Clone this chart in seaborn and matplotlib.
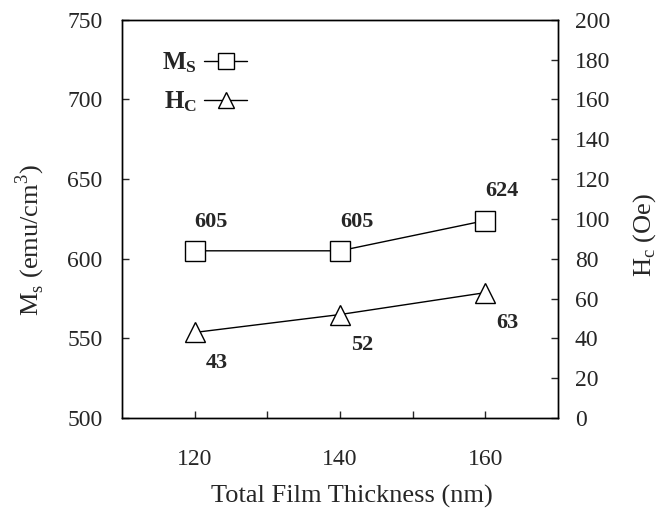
import matplotlib
import matplotlib.pyplot as plt
import pandas as pd
import seaborn as sns

matplotlib.use("Agg")

thickness = [120, 140, 160]
ms_values = [605, 605, 624]
hc_values = [43, 52, 63]

sns.set_style("ticks")
plt.rcParams["font.family"] = ["Liberation Serif", "DejaVu Serif"]
plt.rcParams["mathtext.fontset"] = "custom"
plt.rcParams["mathtext.rm"] = "Liberation Serif"
plt.rcParams["mathtext.bf"] = "Liberation Serif:bold"
plt.rcParams["xtick.direction"] = "in"
plt.rcParams["ytick.direction"] = "in"

df = pd.DataFrame({"Thickness": thickness, "Ms": ms_values, "Hc": hc_values})

fig = plt.figure(figsize=(6.61, 5.08), dpi=100)
ax = fig.add_axes([0.1846, 0.177, 0.6596, 0.784])
ax2 = ax.twinx()

sns.lineplot(x="Thickness", y="Ms", data=df, ax=ax, color="black", linewidth=1,
             marker="s", markersize=14, markerfacecolor="white",
             markeredgecolor="black", markeredgewidth=1, label=r"$\mathbf{M_S}$")
sns.lineplot(x="Thickness", y="Hc", data=df, ax=ax2, color="black", linewidth=1,
             marker="^", markersize=15, markerfacecolor="white",
             markeredgecolor="black", markeredgewidth=1, label=r"$\mathbf{H_C}$")

ax.set_xlim(110, 170)
ax.set_ylim(500, 750)
ax2.set_ylim(0, 200)
ax.set_xticks([120, 140, 160])
ax.set_xticks([130, 150], minor=True)
ax.set_yticks(range(500, 751, 50))
ax2.set_yticks(range(0, 201, 20))
ax.tick_params(axis="both", which="both", labelsize=17, length=5, width=1)
ax.tick_params(axis="x", pad=22)
ax.tick_params(axis="y", pad=14)
ax2.tick_params(axis="y", labelsize=17, length=5, width=1, pad=12)

ax.set_xlabel("Total Film Thickness (nm)", fontsize=19)
ax.set_ylabel(r"M$_\mathrm{s}$ (emu/cm$^3$)", fontsize=19)
ax2.set_ylabel(r"H$_\mathrm{c}$ (Oe)", fontsize=19)
ax.xaxis.set_label_coords(0.528, -0.168)
ax.yaxis.set_label_coords(-0.172, 0.447)
ax2.yaxis.set_label_coords(1.168, 0.46)

for spine in list(ax.spines.values()) + list(ax2.spines.values()):
    spine.set_linewidth(1)
    spine.set_color("black")

# 数値ラベル
for x, y in zip(thickness, ms_values):
    ax.annotate(str(y), (x, y), xytext=(12, 21), textcoords="offset points",
                fontsize=16, fontweight="bold", ha="center", va="center")
for x, y in zip(thickness, hc_values):
    ax2.annotate(str(y), (x, y), xytext=(16, -22), textcoords="offset points",
                 fontsize=16, fontweight="bold", ha="center", va="center")

h1, l1 = ax.get_legend_handles_labels()
h2, l2 = ax2.get_legend_handles_labels()
ax.get_legend().remove()
ax2.get_legend().remove()
leg = ax2.legend(h1 + h2, l1 + l2, loc="upper left", bbox_to_anchor=(0.04, 0.98),
                 frameon=False, markerfirst=False, fontsize=18, handlelength=1.7,
                 labelspacing=0.6, handletextpad=0.3)
for h in leg.legend_handles:
    h.set_markersize(11)

plt.savefig("out.png", dpi=100)
plt.close()
